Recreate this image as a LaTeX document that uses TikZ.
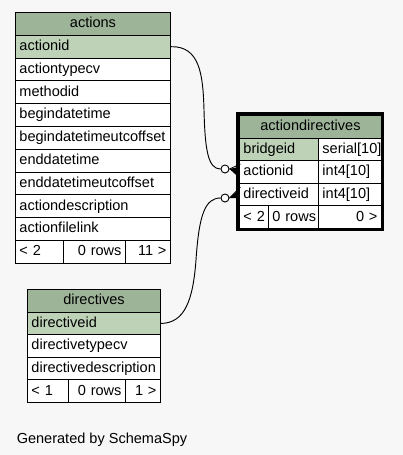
\documentclass[tikz,border=0pt]{standalone}
\usepackage{fontspec}
\setmainfont{Liberation Sans}
\usetikzlibrary{calc}
\definecolor{pagebg}{HTML}{F7F7F7}
\definecolor{hdrgreen}{HTML}{9DB499}
\definecolor{keygreen}{HTML}{BED2B8}
\hyphenpenalty=10000
\exhyphenpenalty=10000
\tikzset{
	cell/.style={draw,fill=white,line width=0.7pt,anchor=north west,inner xsep=3pt,inner ysep=0pt,minimum height=17.1pt,text height=8pt,text depth=2.4pt,align=left,text width=#1},
	hdr/.style={cell=#1,fill=hdrgreen,align=center},
	keyf/.style={cell=#1,fill=keygreen},
	rcell/.style={cell=#1,align=right},
	crowdot/.style={circle,draw,fill=white,line width=0.7pt,inner sep=0pt,minimum size=6pt}
}

\begin{document}
\begin{tikzpicture}[x=0.75pt,y=-0.75pt,font=\fontsize{10.9}{13}\selectfont]
	\fill[pagebg] (0,0) rectangle (403,455);
	% actions
	\node[hdr=110.25pt] (acts) at (15,12) {actions};
	\node[keyf=110.25pt] (acts1) at (15,34.8) {actionid};
	\node[cell=110.25pt] (acts2) at (15,57.6) {actiontypecv};
	\node[cell=110.25pt] (acts3) at (15,80.4) {methodid};
	\node[cell=110.25pt] (acts4) at (15,103.2) {begindatetime};
	\node[cell=110.25pt] (acts5) at (15,126) {begindatetimeutcoffset};
	\node[cell=110.25pt] (acts6) at (15,148.8) {enddatetime};
	\node[cell=110.25pt] (acts7) at (15,171.6) {enddatetimeutcoffset};
	\node[cell=110.25pt] (acts8) at (15,194.4) {actiondescription};
	\node[cell=110.25pt] (acts9) at (15,217.2) {actionfilelink};
	\node[cell=30pt] (actsL) at (15,240) {<~2};
	\node[rcell=40.5pt] (actsM) at (63,240) {0~rows};
	\node[rcell=27.75pt] (actsR) at (125,240) {11~>};
	% directives
	\node[hdr=93.75pt] (dirs) at (27,289) {directives};
	\node[keyf=93.75pt] (dirs1) at (27,311.6) {directiveid};
	\node[cell=93.75pt] (dirs2) at (27,334.2) {directivetypecv};
	\node[cell=93.75pt] (dirs3) at (27,356.8) {directivedescription};
	\node[cell=24.75pt] (dirsL) at (27,379.4) {<~1};
	\node[rcell=36.75pt] (dirsM) at (68,379.4) {0~rows};
	\node[rcell=20.25pt] (dirsR) at (125,379.4) {1~>};
	% actiondirectives
	\node[hdr=100.5pt] (acdir) at (239,115) {actiondirectives};
	\node[keyf=53.25pt] (acdir1n) at (239,137.6) {bridgeid};
	\node[cell=41.25pt] (acdir1t) at (318,137.6) {serial[10]};
	\node[cell=53.25pt] (acdir2n) at (239,160.2) {actionid};
	\node[cell=41.25pt] (acdir2t) at (318,160.2) {int4[10]};
	\node[cell=53.25pt] (acdir3n) at (239,182.8) {directiveid};
	\node[cell=41.25pt] (acdir3t) at (318,182.8) {int4[10]};
	\node[cell=15.75pt] (acdirL) at (239,205.4) {<~2};
	\node[cell=31.5pt] (acdirM) at (268,205.4) {0~rows};
	\node[rcell=41.25pt] (acdirR) at (318,205.4) {0~>};
	\draw[line width=2.2pt] (237.5,113.3) rectangle (382.5,229.3);
	% links
	\node[crowdot] (c1) at (225,169) {};
	\node[crowdot] (c2) at (225,198) {};
	\draw[line width=0.7pt] (acts1.east) .. controls (200,46) and (203,75) .. (204,110) .. controls (205,150) and (208,169) .. (c1.west);
	\draw[line width=0.7pt] (dirs1.east) .. controls (185,323) and (193,300) .. (196,260) .. controls (199,215) and (205,198) .. (c2.west);
	\fill (c1.east) -- ++(9,-2) -- ++(0,10) -- cycle;
	\draw[line width=0.6pt] (c1.east) -- ++(11,-5);
	\fill (c2.east) -- ++(9,-8) -- ++(0,8) -- cycle;
	\draw[line width=0.6pt] (c2.east) -- ++(11,-11);
	\node[anchor=base west,inner sep=0pt] (gen) at (16.5,443) {Generated by SchemaSpy};
\end{tikzpicture}
\end{document}
